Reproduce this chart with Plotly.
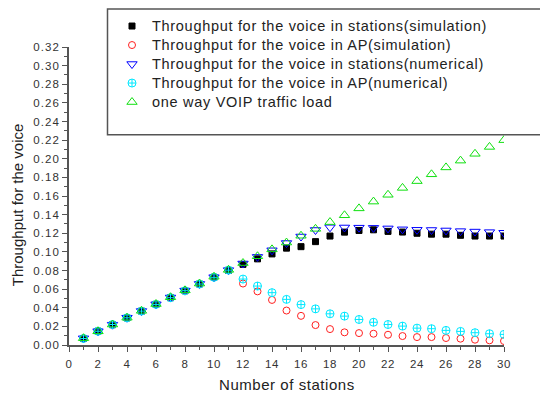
import plotly.graph_objects as go

stations = list(range(1, 31))

sta_sim = [0.0070, 0.0148, 0.0218, 0.0292, 0.0364, 0.0436, 0.0508, 0.0583, 0.0655, 0.0727,
           0.0802, 0.0866, 0.0925, 0.0978, 0.1040, 0.1056, 0.1110, 0.1170, 0.1212, 0.1230,
           0.1237, 0.1220, 0.1213, 0.1200, 0.1190, 0.1190, 0.1178, 0.1170, 0.1170, 0.1170]
ap_sim = [0.0070, 0.0148, 0.0220, 0.0292, 0.0364, 0.0436, 0.0508, 0.0583, 0.0655, 0.0727,
          0.0802, 0.0660, 0.0576, 0.0484, 0.0370, 0.0313, 0.0214, 0.0171, 0.0136, 0.0128,
          0.0121, 0.0110, 0.0096, 0.0085, 0.0085, 0.0075, 0.0068, 0.0057, 0.0050, 0.0043]
sta_num = [0.0072, 0.0148, 0.0218, 0.0293, 0.0365, 0.0437, 0.0510, 0.0584, 0.0656, 0.0728,
           0.0804, 0.0875, 0.0946, 0.1017, 0.1095, 0.1165, 0.1235, 0.1264, 0.1262, 0.1260,
           0.1258, 0.1252, 0.1242, 0.1237, 0.1235, 0.1230, 0.1223, 0.1218, 0.1212, 0.1205]
ap_num = [0.0070, 0.0148, 0.0220, 0.0292, 0.0364, 0.0436, 0.0508, 0.0583, 0.0655, 0.0727,
          0.0804, 0.0708, 0.0633, 0.0562, 0.0490, 0.0434, 0.0388, 0.0335, 0.0310, 0.0274,
          0.0244, 0.0220, 0.0203, 0.0181, 0.0175, 0.0157, 0.0146, 0.0132, 0.0121, 0.0114]
voip_load = [0.0073, 0.0147, 0.0220, 0.0293, 0.0367, 0.0440, 0.0513, 0.0587, 0.0660, 0.0733,
             0.0807, 0.0880, 0.0953, 0.1027, 0.1100, 0.1173, 0.1247, 0.1320, 0.1393, 0.1467,
             0.1540, 0.1613, 0.1687, 0.1760, 0.1833, 0.1907, 0.1980, 0.2053, 0.2127, 0.2200]

series_names = [
    "Throughput for the voice in stations(simulation)",
    "Throughput for the voice in AP(simulation)",
    "Throughput for the voice in stations(numerical)",
    "Throughput for the voice in AP(numerical)",
    "one way VOIP traffic load",
]

x_ticks = list(range(0, 31, 2))
y_ticks = [round(i * 0.02, 2) for i in range(17)]

x_title = "Number of stations"
y_title = "Throughput for the voice"

styles = [
    ("square", "#000000", 6),
    ("circle-open", "#ff2020", 7),
    ("triangle-down-open", "#0000ff", 9),
    ("circle-cross-open", "#00e8ff", 8),
    ("triangle-up-open", "#10e010", 9),
]
values = [sta_sim, ap_sim, sta_num, ap_num, voip_load]

def spaced(text, size, ls):
    return f'<span style="font-size:{size}px;letter-spacing:{ls}px">{text}</span>'

fig = go.Figure()
for name, vals, (sym, col, sz) in zip(series_names, values, styles):
    fig.add_trace(go.Scatter(
        x=stations, y=vals, mode="markers",
        name=spaced(name, 14.5, 0.7),
        marker=dict(symbol=sym, color=col, size=sz,
                    line=dict(color=col, width=1)),
    ))

W, H = 540, 394
L, R, T, B = 69, 36, 44.7, 49.3
pw, ph = W - L - R, H - T - B

def px_to_paper_x(px):
    return (px - L) / pw

def px_to_paper_y(py):
    return (H - B - py) / ph

fig.add_shape(type="rect", xref="paper", yref="paper",
              x0=px_to_paper_x(107.5), x1=px_to_paper_x(560),
              y0=px_to_paper_y(133), y1=px_to_paper_y(6.5),
              line=dict(color="#555555", width=1.5), fillcolor="rgba(0,0,0,0)")

fam = "Liberation Sans, Arial, sans-serif"
axis_font = dict(family=fam, size=11.5, color="#333333")
title_font = dict(family=fam, size=15, color="#222222")

fig.add_annotation(text=spaced(x_title, 15, 0.55), xref="paper", yref="paper",
                   x=0.5, y=px_to_paper_y(384), xanchor="center", yanchor="middle",
                   showarrow=False, font=title_font)
fig.add_annotation(text=y_title, xref="paper", yref="paper", textangle=-90,
                   x=px_to_paper_x(17), y=px_to_paper_y(204), xanchor="center", yanchor="middle",
                   showarrow=False, font=title_font)

fig.update_layout(
    width=W, height=H,
    margin=dict(l=L, r=R, t=T, b=B, pad=0),
    paper_bgcolor="white", plot_bgcolor="white",
    showlegend=True,
    legend=dict(
        x=px_to_paper_x(112), y=px_to_paper_y(9), xanchor="left", yanchor="top",
        bgcolor="rgba(0,0,0,0)", borderwidth=0,
        font=dict(family=fam, size=12, color="#222222"),
        tracegroupgap=0, itemsizing="trace",
    ),
    xaxis=dict(
        range=[0, 30], tickvals=x_ticks,
        ticktext=[spaced(str(v), 11.5, 0.5) for v in x_ticks],
        showgrid=False, zeroline=False, showline=True, linecolor="#555555", linewidth=1.5,
        ticks="outside", ticklen=5, tickwidth=1.2, tickcolor="#555555",
        minor=dict(dtick=1, ticks="outside", ticklen=3, tickwidth=1, tickcolor="#555555", showgrid=False),
        tickfont=axis_font, ticklabelstandoff=2,
    ),
    yaxis=dict(
        range=[0, 0.32], tickvals=y_ticks,
        ticktext=[spaced(f"{v:.2f}", 11.5, 1.1) for v in y_ticks],
        showgrid=False, zeroline=False, showline=True, linecolor="#555555", linewidth=1.5,
        ticks="outside", ticklen=5, tickwidth=1.2, tickcolor="#555555",
        minor=dict(dtick=0.01, ticks="outside", ticklen=3, tickwidth=1, tickcolor="#555555", showgrid=False),
        tickfont=axis_font,
    ),
)

fig.write_html("out.html")
